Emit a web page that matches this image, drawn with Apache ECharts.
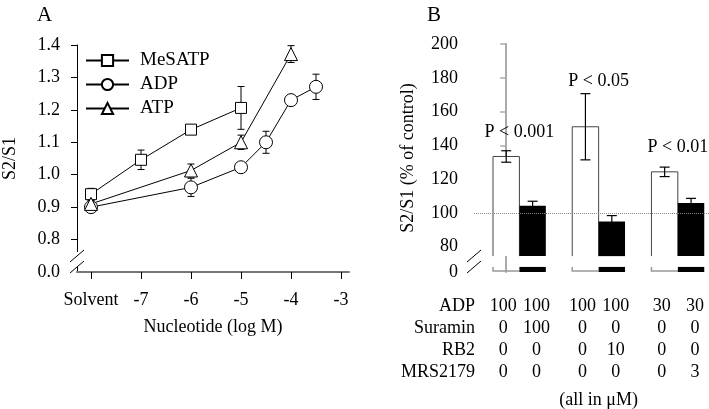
<!DOCTYPE html>
<html>
<head>
<meta charset="utf-8">
<script src="https://cdn.jsdelivr.net/npm/echarts@6/dist/echarts.min.js"></script>
<style>html,body{margin:0;padding:0;background:#fff}#main{width:709px;height:409px}</style>
</head>
<body>
<div id="main"></div>
<script>
// panel A: log M, solvent drawn at -8
var xTicksA = [-8, -7, -6, -5, -4, -3];
var yTicksA = [0.7, 0.8, 0.9, 1.0, 1.1, 1.2, 1.3, 1.4];
var mesatpX = [-8, -7, -6, -5];
var mesatpY = [0.94, 1.046, 1.139, 1.206];
var mesatpErr = [0.018, 0.03, 0.008, 0.066];
var adpX = [-8, -6, -5, -4.5, -4, -3.5];
var adpY = [0.90, 0.961, 1.023, 1.10, 1.23, 1.271];
var adpErr = [0.01, 0.028, 0.012, 0.034, 0.015, 0.039];
var atpX = [-8, -6, -5, -4];
var atpY = [0.91, 1.013, 1.10, 1.372];
var atpErr = [0.01, 0.02, 0.022, 0.026];

// panel B
var barPos = [0, 1, 3, 4, 6, 7];
var barVal = [133.4, 104.3, 151, 94.9, 124.3, 105.9];
var barErr = [3.4, 2.6, 19.6, 3.5, 2.8, 2.7];
var barDark = [0, 1, 0, 1, 0, 1];
var yTicksB = [65, 80, 100, 120, 140, 160, 180, 200];
var pText = ['P < 0.001', 'P < 0.05', 'P < 0.01'];
var pPos = [0.5, 3.5, 6.5];
var pVal = [148, 178, 139];
var rowNames = ['ADP', 'Suramin', 'RB2', 'MRS2179'];
var adpConc = ['100', '100', '100', '100', '30', '30'];
var suraminConc = ['0', '100', '0', '0', '0', '0'];
var rb2Conc = ['0', '0', '0', '10', '0', '0'];
var mrsConc = ['0', '0', '0', '0', '0', '3'];

var FONT = 'Liberation Serif';
var FS = 18;
var breakHigh = 74.4, breakLow = 68;

function pairs(xs, ys) {
    return xs.map(function (x, i) { return [x, ys[i]]; });
}
function errData(xs, ys, es) {
    return xs.map(function (x, i) { return [x, ys[i], es[i]]; });
}

var allErr = errData(mesatpX, mesatpY, mesatpErr)
    .concat(errData(adpX, adpY, adpErr))
    .concat(errData(atpX, atpY, atpErr));

function lineSeries(name, xs, ys, symbol, size) {
    return {
        name: name,
        type: 'line',
        xAxisIndex: 0,
        yAxisIndex: 0,
        data: pairs(xs, ys),
        symbol: symbol,
        symbolSize: size,
        showAllSymbol: true,
        z: 3,
        lineStyle: { color: '#000', width: 1 },
        itemStyle: { color: '#fff', borderColor: '#000', borderWidth: 1 },
        emphasis: { disabled: true }
    };
}

var myChart = echarts.init(document.getElementById('main'));

var option = {
    animation: false,
    textStyle: { fontFamily: FONT },
    title: [
        { text: 'A', left: 32, top: 0, textStyle: { fontFamily: FONT, fontSize: 21, fontWeight: 'normal', color: '#000' } },
        { text: 'B', left: 422, top: 0, textStyle: { fontFamily: FONT, fontSize: 21, fontWeight: 'normal', color: '#000' } }
    ],
    legend: {
        data: ['MeSATP', 'ADP', 'ATP'],
        orient: 'vertical',
        left: 85,
        top: 51,
        padding: 0,
        itemWidth: 43,
        itemHeight: 14,
        itemGap: 5,
        textStyle: { fontFamily: FONT, fontSize: 19, color: '#000', padding: [0, 0, 0, 6] }
    },
    grid: [
        { left: 77, top: 45, width: 272, height: 227 },
        { left: 474, top: 44, right: 0, height: 228 }
    ],
    xAxis: [{
        type: 'value',
        gridIndex: 0,
        min: -8.28,
        max: -2.84,
        name: 'Nucleotide (log M)',
        nameLocation: 'middle',
        nameGap: 46,
        nameTextStyle: { fontFamily: FONT, fontSize: FS, color: '#000' },
        axisLine: { lineStyle: { color: '#777', width: 2 } },
        axisTick: { customValues: xTicksA, length: 7, lineStyle: { color: '#000' } },
        axisLabel: {
            customValues: xTicksA,
            margin: 19,
            fontFamily: FONT, fontSize: FS, color: '#000',
            formatter: function (v) { return v === -8 ? 'Solvent' : String(v); }
        },
        splitLine: { show: false }
    }, {
        type: 'value',
        gridIndex: 1,
        min: -1.22,
        max: 7.68,
        show: false
    }],
    yAxis: [{
        type: 'value',
        gridIndex: 0,
        min: 0.7,
        max: 1.4,
        name: 'S2/S1',
        nameLocation: 'middle',
        nameGap: 58,
        nameTextStyle: { fontFamily: FONT, fontSize: FS, color: '#000' },
        axisLine: { show: true, lineStyle: { color: '#000', width: 1 } },
        axisTick: { customValues: yTicksA.slice(1), length: 6, lineStyle: { color: '#000' } },
        axisLabel: {
            customValues: yTicksA,
            margin: 17,
            fontFamily: FONT, fontSize: FS, color: '#000',
            formatter: function (v) { return Math.abs(v - 0.7) < 1e-6 ? '0.0' : v.toFixed(1); }
        },
        splitLine: { show: false }
    }, {
        type: 'value',
        gridIndex: 1,
        min: 65,
        max: 200,
        name: 'S2/S1 (% of control)',
        nameLocation: 'middle',
        nameGap: 57,
        nameTextStyle: { fontFamily: FONT, fontSize: FS, color: '#000' },
        axisLine: { show: true, lineStyle: { color: '#aaa', width: 2 } },
        axisTick: { customValues: yTicksB.slice(1), length: 6, lineStyle: { color: '#aaa', width: 1.5 } },
        axisLabel: {
            customValues: yTicksB,
            margin: 16,
            fontFamily: FONT, fontSize: FS, color: '#000',
            formatter: function (v) { return v === 65 ? '0' : String(v); }
        },
        splitLine: { show: false }
    }],
    series: [
        {
            // error bars panel A
            type: 'custom',
            xAxisIndex: 0,
            yAxisIndex: 0,
            z: 1,
            silent: true,
            data: allErr,
            renderItem: function (params, api) {
                var x = api.value(0), y = api.value(1), e = api.value(2);
                var hi = api.coord([x, y + e]), lo = api.coord([x, y - e]);
                var c = 3.5;
                var st = { stroke: '#000', lineWidth: 1 };
                return {
                    type: 'group',
                    children: [
                        { type: 'line', shape: { x1: hi[0], y1: hi[1], x2: lo[0], y2: lo[1] }, style: st },
                        { type: 'line', shape: { x1: hi[0] - c, y1: hi[1], x2: hi[0] + c, y2: hi[1] }, style: st },
                        { type: 'line', shape: { x1: lo[0] - c, y1: lo[1], x2: lo[0] + c, y2: lo[1] }, style: st }
                    ]
                };
            }
        },
        lineSeries('MeSATP', mesatpX, mesatpY, 'rect', 11),
        lineSeries('ADP', adpX, adpY, 'circle', 13),
        lineSeries('ATP', atpX, atpY, 'triangle', 13),
        {
            // bars panel B
            type: 'custom',
            xAxisIndex: 1,
            yAxisIndex: 1,
            silent: true,
            data: barPos.map(function (p, i) { return [p, barVal[i], barErr[i], barDark[i]]; }),
            renderItem: function (params, api) {
                var pos = api.value(0), val = api.value(1), err = api.value(2), dark = api.value(3);
                var xl = api.coord([pos - 0.5, val])[0];
                var xr = api.coord([pos + 0.5, val])[0];
                var yTop = api.coord([pos, val])[1];
                var yBrk = api.coord([pos, breakHigh])[1];
                var yStub = api.coord([pos, breakLow])[1];
                var yBase = api.coord([pos, 65])[1];
                var yHi = api.coord([pos, val + err])[1];
                var yLo = api.coord([pos, val - err])[1];
                var xc = (xl + xr) / 2, c = 5;
                var kids = [];
                if (dark) {
                    kids.push({ type: 'rect', shape: { x: xl, y: yTop, width: xr - xl, height: yBrk - yTop }, style: { fill: '#000' } });
                    kids.push({ type: 'rect', shape: { x: xl, y: yStub, width: xr - xl, height: yBase - yStub }, style: { fill: '#000' } });
                } else {
                    kids.push({ type: 'rect', shape: { x: xl, y: yTop, width: xr - xl, height: yBrk - yTop }, style: { fill: '#fff' } });
                    kids.push({ type: 'polyline', shape: { points: [[xl, yBrk], [xl, yTop], [xr, yTop], [xr, yBrk]] }, style: { stroke: '#444', lineWidth: 1, fill: null } });
                    kids.push({ type: 'polyline', shape: { points: [[xl, yStub], [xl, yBase - 1], [xr, yBase - 1]] }, style: { stroke: '#999', lineWidth: 1.5, fill: null } });
                }
                var st = { stroke: '#000', lineWidth: 1.2 };
                kids.push({ type: 'line', shape: { x1: xc, y1: yHi, x2: xc, y2: yLo }, style: st });
                kids.push({ type: 'line', shape: { x1: xc - c, y1: yHi, x2: xc + c, y2: yHi }, style: st });
                kids.push({ type: 'line', shape: { x1: xc - c, y1: yLo, x2: xc + c, y2: yLo }, style: st });
                return { type: 'group', children: kids };
            }
        },
        {
            // P value labels
            type: 'custom',
            xAxisIndex: 1,
            yAxisIndex: 1,
            silent: true,
            clip: false,
            data: pPos.map(function (p, i) { return [p, pVal[i], i]; }),
            renderItem: function (params, api) {
                var pt = api.coord([api.value(0), api.value(1)]);
                return {
                    type: 'text',
                    x: pt[0],
                    y: pt[1],
                    style: {
                        text: pText[api.value(2)],
                        fill: '#000',
                        fontFamily: FONT,
                        fontSize: FS,
                        align: 'center',
                        verticalAlign: 'middle'
                    }
                };
            }
        },
        {
            // dotted control line at 100 %
            type: 'line',
            xAxisIndex: 1,
            yAxisIndex: 1,
            data: [],
            markLine: {
                silent: true,
                symbol: 'none',
                label: { show: false },
                lineStyle: { color: '#888', type: 'dotted', width: 1 },
                data: [{ yAxis: 100 }]
            }
        }
    ]
};

myChart.setOption(option);

// axis breaks and the condition table below panel B
var g = [];
function axisBreak(x, yBase, gapTop) {
    g.push({ type: 'rect', shape: { x: x - 2, y: yBase - gapTop, width: 4, height: gapTop - 6 }, style: { fill: '#fff' }, z: 50 });
    [16, 5].forEach(function (d) {
        g.push({ type: 'line', shape: { x1: x - 7, y1: yBase - d + 6, x2: x + 7, y2: yBase - d - 6 }, style: { stroke: '#000', lineWidth: 1 }, z: 51 });
    });
}
var ax = myChart.convertToPixel({ xAxisIndex: 0 }, -8.28);
var ay = myChart.convertToPixel({ yAxisIndex: 0 }, 0.7);
axisBreak(ax, ay, 20);
var bx = myChart.convertToPixel({ xAxisIndex: 1 }, -1.22);
var by = myChart.convertToPixel({ yAxisIndex: 1 }, 65);
axisBreak(bx, by, 24);
g.push({ type: 'rect', shape: { x: bx - 2, y: by - 7, width: 4, height: 9 }, style: { fill: '#fff' }, z: 50 });

var rows = [adpConc, suraminConc, rb2Conc, mrsConc];
rows.forEach(function (vals, r) {
    var y = by + 34 + r * 22;
    g.push({ type: 'text', x: bx + 1, y: y, style: { text: rowNames[r], fontFamily: FONT, fontSize: FS, fill: '#000', align: 'right', verticalAlign: 'middle' } });
    vals.forEach(function (v, i) {
        var cx = myChart.convertToPixel({ xAxisIndex: 1 }, barPos[i]) + (barDark[i] ? 4 : -3);
        g.push({ type: 'text', x: cx, y: y, style: { text: v, fontFamily: FONT, fontSize: FS, fill: '#000', align: 'center', verticalAlign: 'middle' } });
    });
});
g.push({ type: 'text', x: myChart.convertToPixel({ xAxisIndex: 1 }, 3.5), y: by + 128, style: { text: '(all in μM)', fontFamily: FONT, fontSize: FS, fill: '#000', align: 'center', verticalAlign: 'middle' } });

myChart.setOption({ graphic: g });
</script>
</body>
</html>
